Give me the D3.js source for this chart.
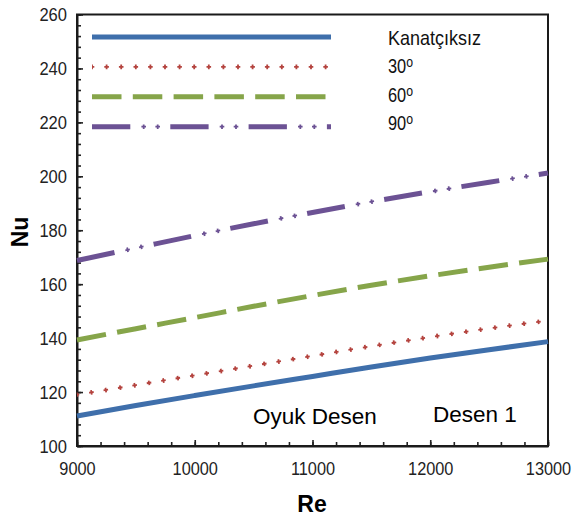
<!DOCTYPE html>
<html>
<head>
<meta charset="utf-8">
<script src="https://cdn.jsdelivr.net/npm/d3@7"></script>
<style>
  body { margin: 0; background: #fff; }
  svg { font-family: "Liberation Sans", Arial, sans-serif; }
</style>
</head>
<body>
<script>
// Chart data
var re = [9000, 9500, 10000, 10500, 11000, 11500, 12000, 12500, 13000];
var nuKanatciksiz = [111.1, 115.0, 118.7, 122.3, 125.8, 129.3, 132.6, 135.7, 138.7];
var nu30 = [119.0, 122.6, 126.2, 129.8, 133.4, 137.0, 140.4, 143.6, 146.5];
var nu60 = [139.3, 143.5, 147.6, 151.8, 155.8, 159.6, 163.1, 166.3, 169.3];
var nu90 = [168.8, 173.4, 178.0, 182.4, 186.6, 190.6, 194.3, 197.8, 201.2];

var seriesNames = ["Kanatçıksız", "30", "60", "90"];
var xTicks = [9000, 10000, 11000, 12000, 13000];
var yTicks = [100, 120, 140, 160, 180, 200, 220, 240, 260];
var xMinor = d3.range(9000, 13001, 200);
var yMinor = d3.range(100, 261, 4);

// SVG area
var svgWidth = 583;
var svgHeight = 521;
var margin = { top: 14.5, right: 35, bottom: 75, left: 77 };
var chartWidth = svgWidth - margin.left - margin.right;
var chartHeight = svgHeight - margin.top - margin.bottom;

var svg = d3.select("body")
  .append("svg")
  .attr("width", svgWidth)
  .attr("height", svgHeight);

var chartGroup = svg.append("g")
  .attr("transform", `translate(${margin.left}, ${margin.top})`);

var xScale = d3.scaleLinear().domain([9000, 13000]).range([0, chartWidth]);
var yScale = d3.scaleLinear().domain([100, 260]).range([chartHeight, 0]);

// line styles for each series (blue solid, red crosses, green dashes, purple dash-dot)
var styles = [
  { color: "#3f6fab", strokes: [{ w: 5, dash: null, off: 0 }] },
  { color: "#b4433e", strokes: [
      { w: 1.8, dash: "4.6,10", off: 2.3 },
      { w: 4.6, dash: "1.8,12.8", off: 0.9 }] },
  { color: "#86a54a", strokes: [{ w: 5, dash: "29.5,11.3", off: 0 }] },
  { color: "#6c5294", strokes: [
      { w: 5, dash: "38.3,40", off: 0 },
      { w: 1.8, dash: "0,49.4,4.6,9.4,4.6,10.3", off: 0 },
      { w: 4.6, dash: "0,50.8,1.8,12.2,1.8,11.7", off: 0 }] }
];

var seriesValues = [nuKanatciksiz, nu30, nu60, nu90];

// minor ticks (inward)
chartGroup.append("g")
  .attr("transform", `translate(0, ${chartHeight})`)
  .call(d3.axisBottom(xScale).tickValues(xMinor).tickSize(-4).tickFormat(""))
  .call(g => g.select(".domain").remove());
chartGroup.append("g")
  .call(d3.axisLeft(yScale).tickValues(yMinor).tickSize(-4).tickFormat(""))
  .call(g => g.select(".domain").remove());

// major axes
var xAxis = chartGroup.append("g")
  .attr("transform", `translate(0, ${chartHeight})`)
  .call(d3.axisBottom(xScale).tickValues(xTicks).tickSizeInner(-6).tickSizeOuter(0).tickPadding(15.5).tickFormat(d3.format("d")));
var yAxis = chartGroup.append("g")
  .call(d3.axisLeft(yScale).tickValues(yTicks).tickSizeInner(-6).tickSizeOuter(0).tickPadding(10));

chartGroup.selectAll(".tick line").attr("stroke", "#222").attr("stroke-width", 1.6);

xAxis.selectAll("text")
  .attr("font-size", 19)
  .attr("fill", "#222")
  .attr("x", 0)
  .attr("transform", "scale(0.86,1)");
yAxis.selectAll("text")
  .attr("font-size", 19)
  .attr("fill", "#222")
  .attr("x", -10 / 0.87)
  .attr("transform", "scale(0.87,1)");

// frame
chartGroup.append("rect")
  .attr("width", chartWidth)
  .attr("height", chartHeight)
  .attr("fill", "none")
  .attr("stroke", "#1a1a1a")
  .attr("stroke-width", 2);
chartGroup.selectAll(".domain").attr("stroke", "#1a1a1a").attr("stroke-width", 2);

// data lines
var drawLine = d3.line()
  .x(d => xScale(d[0]))
  .y(d => yScale(d[1]))
  .curve(d3.curveMonotoneX);

seriesValues.forEach(function(vals, i) {
  var pts = re.map((r, j) => [r, vals[j]]);
  styles[i].strokes.forEach(function(s) {
    chartGroup.append("path")
      .datum(pts)
      .attr("d", drawLine)
      .attr("fill", "none")
      .attr("stroke", styles[i].color)
      .attr("stroke-width", s.w)
      .attr("stroke-dasharray", s.dash)
      .attr("stroke-dashoffset", s.off);
  });
});

// legend
var legend = svg.append("g");
seriesNames.forEach(function(name, i) {
  var ly = 37 + i * 29.9;
  styles[i].strokes.forEach(function(s) {
    legend.append("line")
      .attr("x1", 92).attr("x2", 331)
      .attr("y1", ly).attr("y2", ly)
      .attr("stroke", styles[i].color)
      .attr("stroke-width", s.w)
      .attr("stroke-dasharray", s.dash)
      .attr("stroke-dashoffset", s.off);
  });
  var t = legend.append("text")
    .attr("font-size", 20)
    .attr("fill", "#111");
  if (i === 0) {
    t.attr("transform", `translate(388, 45) scale(0.9,1)`).text(name);
  } else {
    t.attr("transform", `translate(388, ${45 + i * 28.4}) scale(0.82,1)`);
    t.append("tspan").text(name);
    t.append("tspan").attr("font-size", 15).attr("dy", -6).text("o");
  }
});

// axes titles
svg.append("text")
  .attr("x", 312)
  .attr("y", 512)
  .attr("text-anchor", "middle")
  .attr("font-size", 23)
  .attr("font-weight", "bold")
  .text("Re");

svg.append("text")
  .attr("transform", "translate(28, 232) rotate(-90)")
  .attr("text-anchor", "middle")
  .attr("font-size", 23)
  .attr("font-weight", "bold")
  .text("Nu");

// annotations
svg.append("text")
  .attr("x", 253).attr("y", 424)
  .attr("font-size", 22.5)
  .text("Oyuk Desen");
svg.append("text")
  .attr("x", 433).attr("y", 422)
  .attr("font-size", 22.5)
  .text("Desen 1");
</script>
</body>
</html>
